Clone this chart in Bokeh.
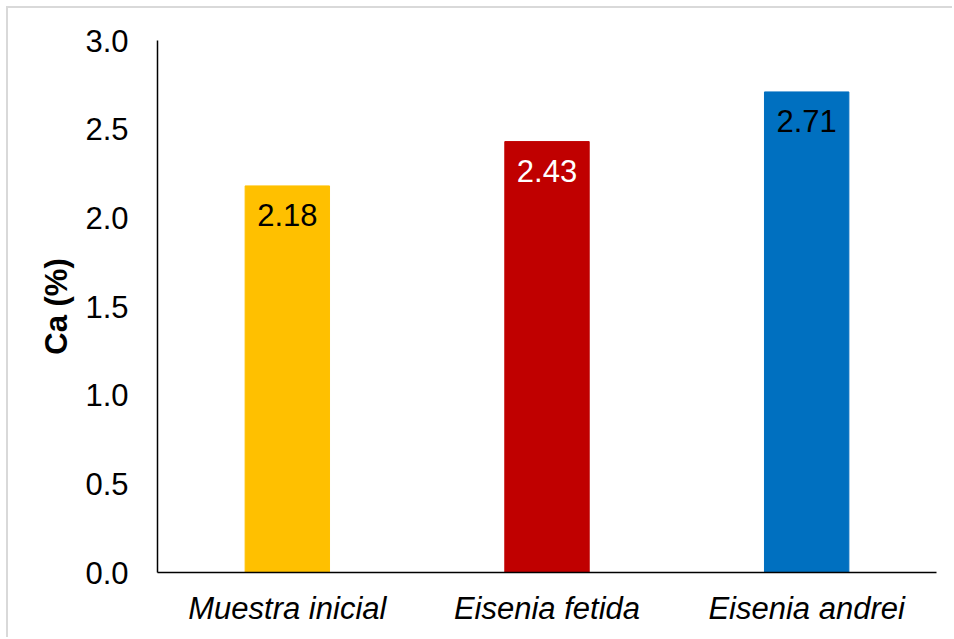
from bokeh.plotting import figure
from bokeh.models import ColumnDataSource, LabelSet, FixedTicker, CustomJSTickFormatter
from bokeh.embed import file_html
from bokeh.resources import INLINE
from bokeh.core.properties import value

categories = ["Muestra inicial", "Eisenia fetida", "Eisenia andrei"]
ca_values = [2.18, 2.43, 2.71]
bar_colors = ["#FFC000", "#C00000", "#0070C0"]
label_colors = ["#000000", "#FFFFFF", "#000000"]
y_ticks = [0.0, 0.5, 1.0, 1.5, 2.0, 2.5, 3.0]

src = ColumnDataSource(dict(
    cat=categories, val=ca_values, color=bar_colors,
    lcolor=label_colors, txt=[f"{v:.2f}" for v in ca_values],
))

FONT = "Liberation Sans"
FS = "31px"

p = figure(width=946, height=631, x_range=categories, y_range=(0, 3.0),
           output_backend="svg", toolbar_location=None,
           min_border_left=149, min_border_right=18, min_border_top=32,
           min_border_bottom=67)
p.outline_line_color = None
p.grid.grid_line_color = None
p.background_fill_color = "white"
p.border_fill_color = "white"
p.styles = {"margin-left": "6px", "margin-top": "6px",
            "border-left": "2px solid #D9D9D9", "border-top": "2px solid #D9D9D9"}

p.vbar(x="cat", top="val", width=0.325, color="color", source=src)

labels = LabelSet(x="cat", y="val", text="txt", source=src,
                  text_color="lcolor", text_align="center", text_baseline="top",
                  y_offset=-18, text_font=value(FONT), text_font_size=FS)
p.add_layout(labels)

p.yaxis.ticker = FixedTicker(ticks=y_ticks)
p.yaxis.formatter = CustomJSTickFormatter(code="return tick.toFixed(1);")
for ax in (p.xaxis, p.yaxis):
    ax.axis_line_color = "black"
    ax.axis_line_width = 1.5
    ax.major_tick_line_color = None
    ax.minor_tick_line_color = None
    ax.major_tick_out = 0
    ax.major_tick_in = 0
    ax.major_label_text_font = FONT
    ax.major_label_text_font_size = FS
    ax.major_label_text_color = "black"
p.yaxis.major_label_standoff = 29
p.xaxis.major_label_standoff = 18
p.xaxis.major_label_text_font_style = "italic"
p.yaxis.axis_label = "Ca (%)"
p.yaxis.axis_label_text_font = FONT
p.yaxis.axis_label_text_font_size = FS
p.yaxis.axis_label_text_font_style = "bold"
p.yaxis.axis_label_text_color = "black"
p.yaxis.axis_label_standoff = 8

open("out.html", "w").write(file_html(p, INLINE))
